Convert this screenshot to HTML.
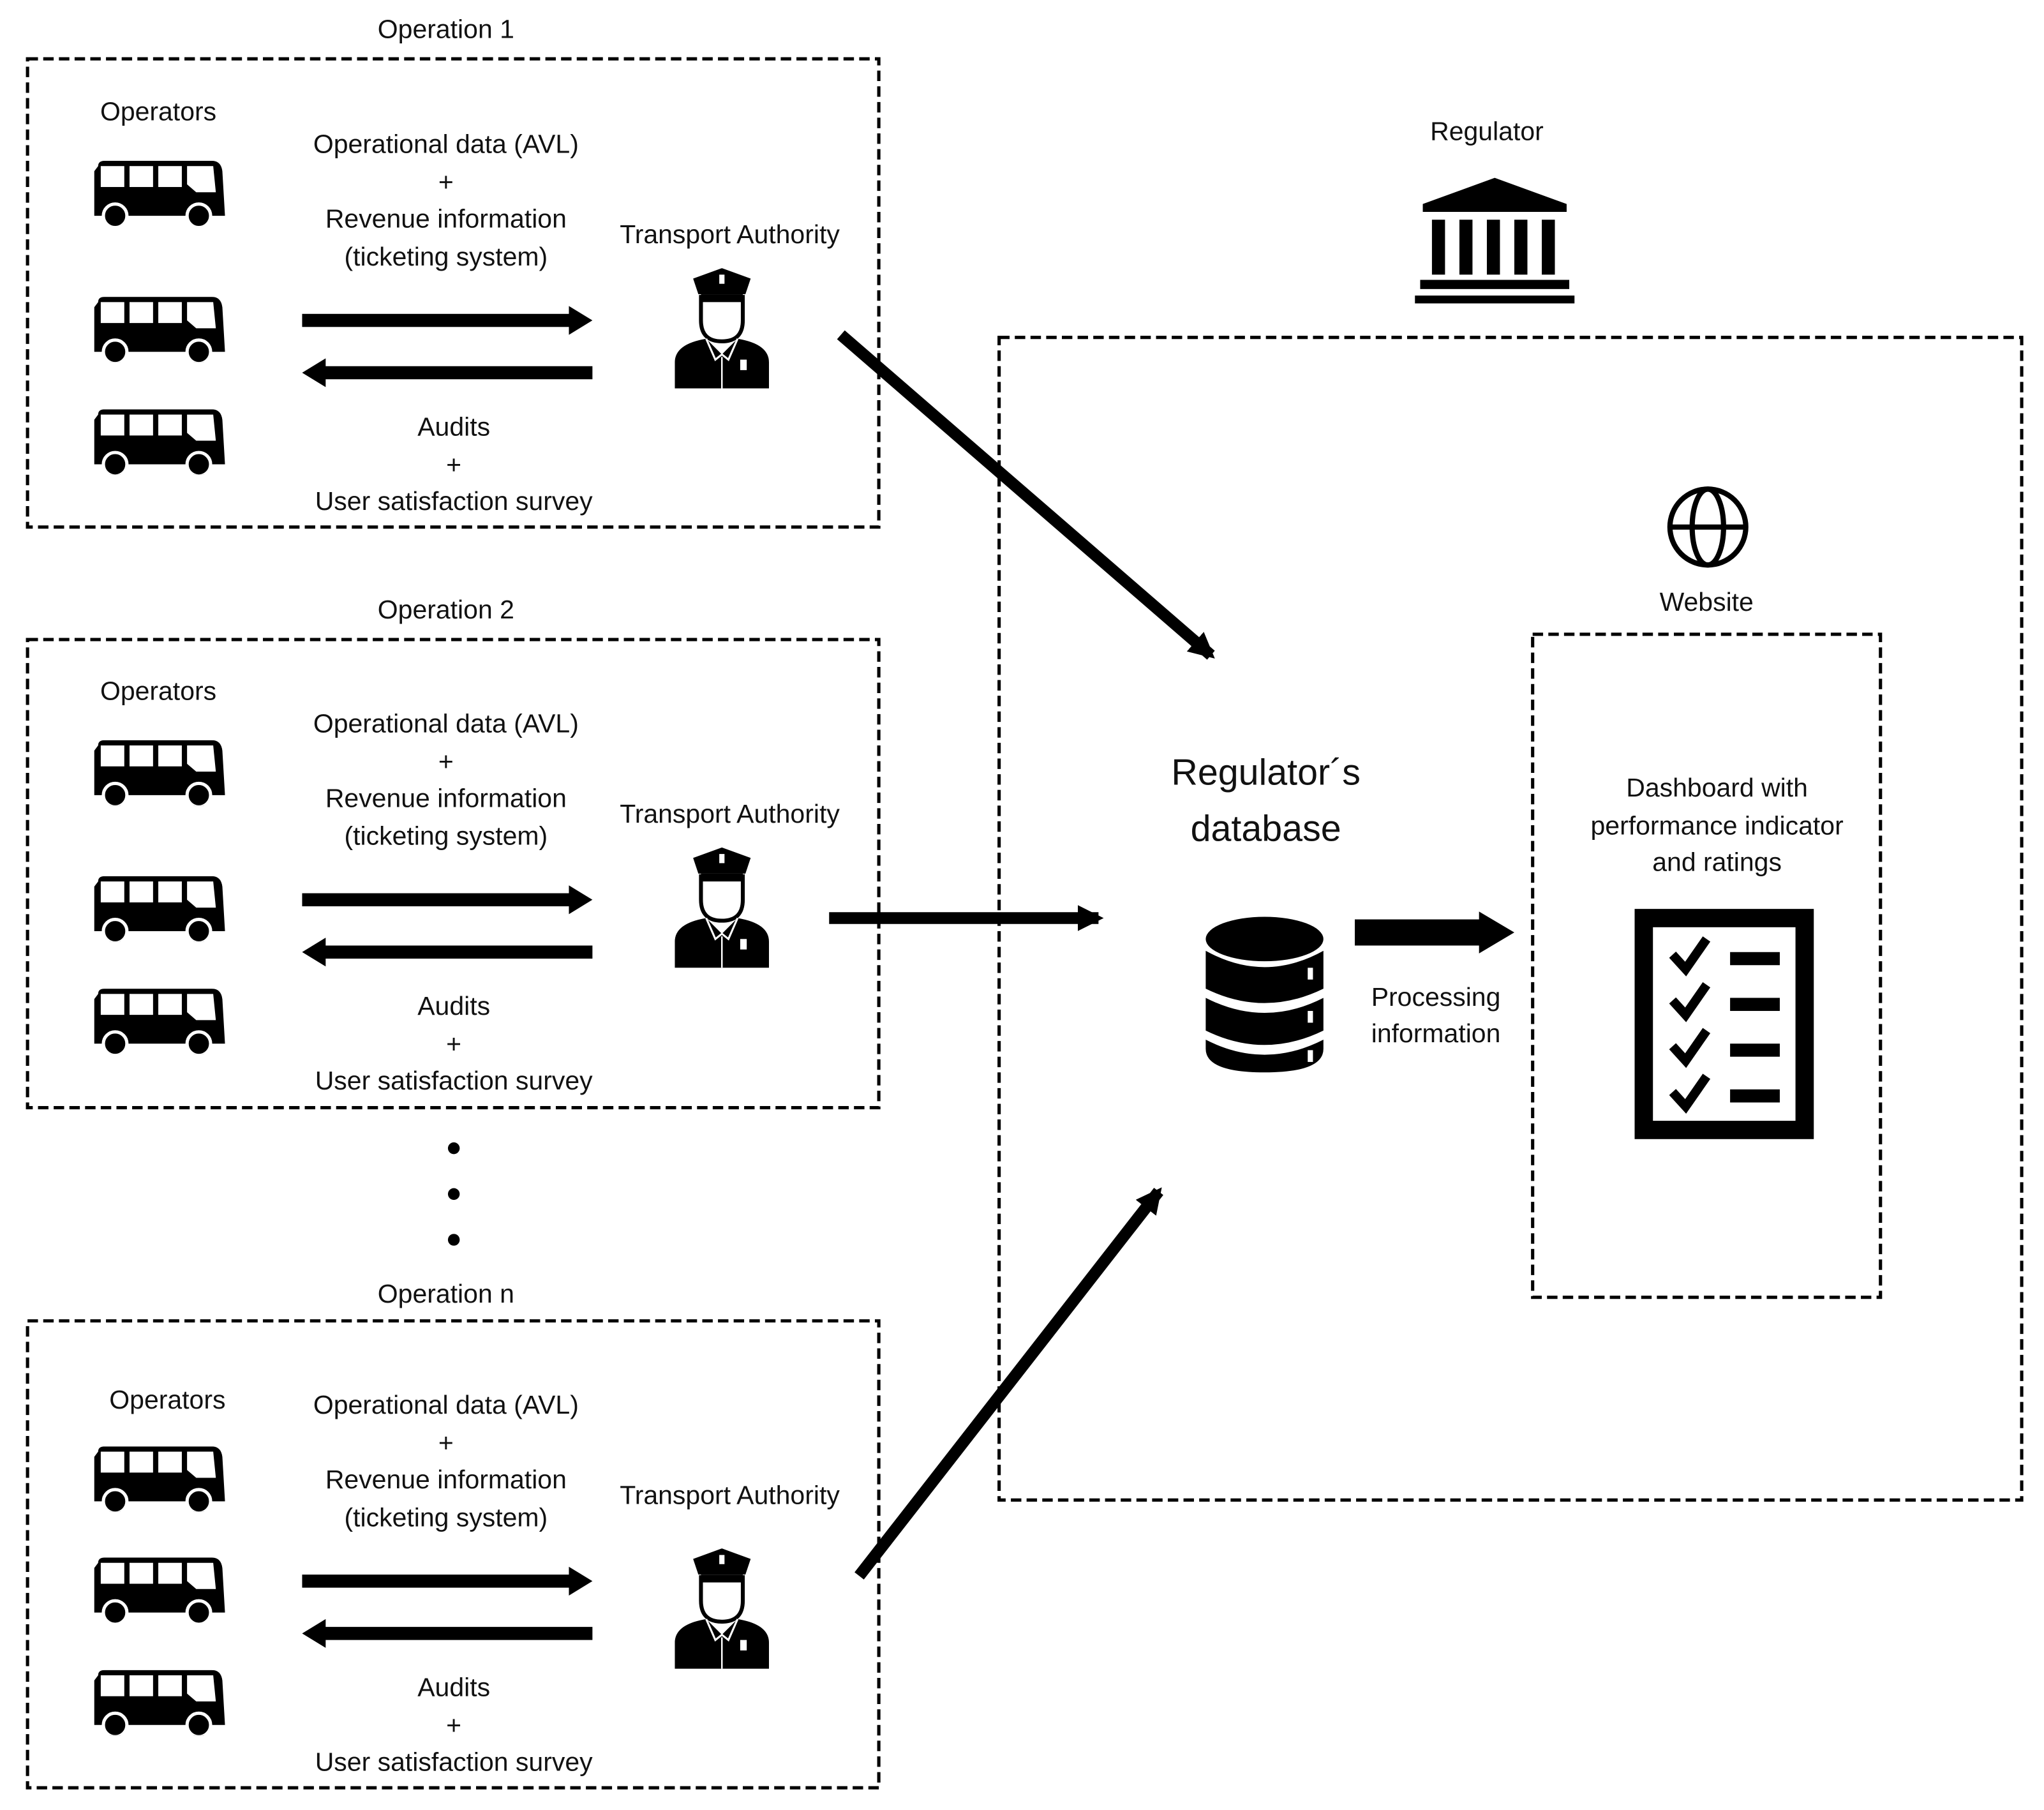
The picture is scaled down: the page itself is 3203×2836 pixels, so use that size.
<!DOCTYPE html>
<html><head><meta charset="utf-8"><style>
html,body{margin:0;padding:0;background:#fff;}
svg{display:block;}
text{font-family:"Liberation Sans",sans-serif;fill:#111;text-anchor:middle;}
</style></head><body>
<svg width="3203" height="2836" viewBox="0 0 1563 1384" xmlns="http://www.w3.org/2000/svg">
<defs>
<symbol id="bus" viewBox="0 0 100 50">
  <path d="M3,4 Q3,0 8,0 L90,0 Q97,0 98,8 L100,42 L0,42 L0,8 Z" fill="#000"/>
  <rect x="5" y="4" width="18" height="16" fill="#fff"/>
  <rect x="27" y="4" width="18" height="16" fill="#fff"/>
  <rect x="49" y="4" width="18" height="16" fill="#fff"/>
  <path d="M71,4 L91,4 L93,24 L78,24 L71,18 Z" fill="#fff"/>
  <circle cx="16" cy="42" r="9" fill="#000" stroke="#fff" stroke-width="2.5"/>
  <circle cx="80" cy="42" r="9" fill="#000" stroke="#fff" stroke-width="2.5"/>
</symbol>
<symbol id="cop" viewBox="0 0 72 92">
  <path d="M14,8 L36,0 L58,8 L54,20 L18,20 Z" fill="#000"/>
  <rect x="34" y="5" width="4" height="7" fill="#fff"/>
  <path d="M20,22 L52,22 L52,40 Q52,56 36,56 Q20,56 20,40 Z" fill="#fff" stroke="#000" stroke-width="3"/>
  <rect x="20" y="20" width="32" height="6" fill="#000"/>
  <path d="M0,92 L0,72 Q0,58 24,54 L36,66 L48,54 Q72,58 72,72 L72,92 Z" fill="#000"/>
  <path d="M24,54 L31,70 L36,66 L41,70 L48,54" fill="none" stroke="#fff" stroke-width="1.5"/>
  <line x1="36" y1="68" x2="36" y2="92" stroke="#fff" stroke-width="1.2"/>
  <rect x="50" y="70" width="5" height="8" fill="#fff"/>
</symbol>
<marker id="ah" viewBox="0 0 10 10" refX="8" refY="5" markerWidth="2.2" markerHeight="2.2" orient="auto"><path d="M0,0 L10,5 L0,10 Z" fill="#000"/></marker>
</defs>

<g fill="none" stroke="#000" stroke-width="2.5" stroke-dasharray="8,4">
  <rect x="21" y="45" width="651" height="358"/>
  <rect x="21" y="489" width="651" height="358"/>
  <rect x="21" y="1010" width="651" height="357"/>
  <rect x="764" y="258" width="782" height="889"/>
  <rect x="1172" y="485" width="266" height="507"/>
</g>

<g font-size="20">
<text x="341" y="29">Operation 1</text>
<text x="341" y="473">Operation 2</text>
<text x="341" y="996">Operation n</text>
</g>

<!-- operation blocks -->
<g id="op1">
  <text x="121" y="92" font-size="20">Operators</text>
  <use href="#bus" x="72" y="123" width="100" height="50"/>
  <use href="#bus" x="72" y="227" width="100" height="50"/>
  <use href="#bus" x="72" y="313" width="100" height="50"/>
  <g font-size="20">
  <text x="341" y="117">Operational data (AVL)</text>
  <text x="341" y="146">+</text>
  <text x="341" y="174">Revenue information</text>
  <text x="341" y="203">(ticketing system)</text>
  <text x="558" y="186">Transport Authority</text>
  <text x="347" y="333">Audits</text>
  <text x="347" y="362">+</text>
  <text x="347" y="390">User satisfaction survey</text>
  </g>
  <rect x="231" y="240" width="206" height="10" fill="#000"/>
  <path d="M435,234 L453,245 L435,256 Z" fill="#000"/>
  <rect x="247" y="280" width="206" height="10" fill="#000"/>
  <path d="M249,274 L231,285 L249,296 Z" fill="#000"/>
  <use href="#cop" x="516" y="205" width="72" height="92"/>
</g>
<use href="#op1" y="443"/>
<g transform="translate(0,964)">
  <text x="128" y="113" font-size="20">Operators</text>
  <use href="#bus" x="72" y="142" width="100" height="50"/>
  <use href="#bus" x="72" y="227" width="100" height="50"/>
  <use href="#bus" x="72" y="313" width="100" height="50"/>
  <g font-size="20">
  <text x="341" y="117">Operational data (AVL)</text>
  <text x="341" y="146">+</text>
  <text x="341" y="174">Revenue information</text>
  <text x="341" y="203">(ticketing system)</text>
  <text x="558" y="186">Transport Authority</text>
  <text x="347" y="333">Audits</text>
  <text x="347" y="362">+</text>
  <text x="347" y="390">User satisfaction survey</text>
  </g>
  <rect x="231" y="240" width="206" height="10" fill="#000"/>
  <path d="M435,234 L453,245 L435,256 Z" fill="#000"/>
  <rect x="247" y="280" width="206" height="10" fill="#000"/>
  <path d="M249,274 L231,285 L249,296 Z" fill="#000"/>
  <use href="#cop" x="516" y="220" width="72" height="92"/>
</g>

<circle cx="347" cy="878" r="4.5" fill="#000"/>
<circle cx="347" cy="913" r="4.5" fill="#000"/>
<circle cx="347" cy="948" r="4.5" fill="#000"/>

<!-- diagonal / connector arrows -->
<g stroke="#000" stroke-width="9" marker-end="url(#ah)">
  <line x1="643" y1="256" x2="926" y2="501"/>
  <line x1="634" y1="702" x2="840" y2="702"/>
  <line x1="657" y1="1205" x2="886" y2="911"/>
</g>

<!-- regulator -->
<text x="1137" y="107" font-size="20">Regulator</text>
<g fill="#000">
  <path d="M1143,136 L1198,156 L1198,162 L1088,162 L1088,156 Z"/>
  <rect x="1095" y="168" width="10" height="42"/>
  <rect x="1116" y="168" width="10" height="42"/>
  <rect x="1137" y="168" width="10" height="42"/>
  <rect x="1158" y="168" width="10" height="42"/>
  <rect x="1179" y="168" width="10" height="42"/>
  <rect x="1086" y="214" width="114" height="7"/>
  <rect x="1082" y="226" width="122" height="6"/>
</g>

<!-- globe -->
<g fill="none" stroke="#000" stroke-width="4">
  <circle cx="1306" cy="403" r="29"/>
  <ellipse cx="1306" cy="403" rx="12" ry="29"/>
  <line x1="1277" y1="403" x2="1335" y2="403"/>
</g>
<text x="1305" y="467" font-size="20">Website</text>

<g font-size="20">
<text x="1313" y="609">Dashboard with</text>
<text x="1313" y="638">performance indicator</text>
<text x="1313" y="666">and ratings</text>
</g>
<!-- clipboard -->
<rect x="1250" y="695" width="137" height="176" fill="#000"/>
<rect x="1264" y="709" width="109" height="148" fill="#fff"/>
<g fill="none" stroke="#000" stroke-width="7">
  <path d="M1279,730 L1289,741 L1305,718"/>
  <path d="M1279,765 L1289,776 L1305,753"/>
  <path d="M1279,800 L1289,811 L1305,788"/>
  <path d="M1279,835 L1289,846 L1305,823"/>
</g>
<g fill="#000">
  <rect x="1323" y="728" width="38" height="10"/>
  <rect x="1323" y="763" width="38" height="10"/>
  <rect x="1323" y="798" width="38" height="10"/>
  <rect x="1323" y="833" width="38" height="10"/>
</g>

<!-- database -->
<text x="968" y="600" font-size="28">Regulator´s</text>
<text x="968" y="643" font-size="28">database</text>
<g fill="#000">
  <ellipse cx="967" cy="718" rx="45" ry="17"/>
  <path d="M922,727 Q967,752 1012,727 L1012,756 Q967,778 922,756 Z"/>
  <path d="M922,763 Q967,786 1012,763 L1012,788 Q967,810 922,788 Z"/>
  <path d="M922,795 Q967,818 1012,795 L1012,802 Q1012,820 967,820 Q922,820 922,802 Z"/>
</g>
<g fill="#fff"><rect x="1000" y="740" width="4" height="9"/><rect x="1000" y="773" width="4" height="9"/><rect x="1000" y="803" width="4" height="9"/></g>

<rect x="1036" y="703" width="100" height="20" fill="#000"/>
<path d="M1131,697 L1158,713 L1131,729 Z" fill="#000"/>
<text x="1098" y="769" font-size="20">Processing</text>
<text x="1098" y="797" font-size="20">information</text>
</svg>
</body></html>
